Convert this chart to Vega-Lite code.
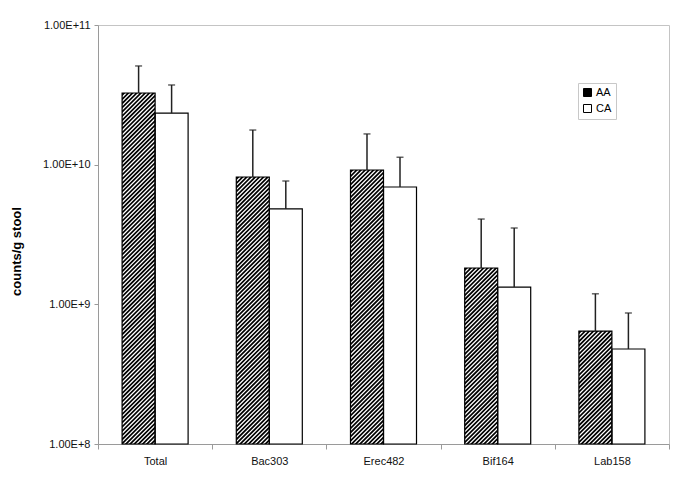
{
  "$schema": "https://vega.github.io/schema/vega-lite/v6.json",
  "width": 571,
  "height": 419,
  "autosize": "none",
  "padding": {"left": 98, "top": 25, "right": 16, "bottom": 49},
  "background": "white",
  "config": {
    "view": {"stroke": "#c4c4c4", "strokeWidth": 1},
    "font": "Liberation Sans",
    "axis": {"grid": false, "domainColor": "#9a9a9a", "tickColor": "#9a9a9a", "labelColor": "#111111", "labelFont": "Liberation Sans", "labelFontSize": 11, "titleFont": "Liberation Sans", "titleColor": "#000000"}
  },
  "data": {
    "values": [
      {"probe": "Total", "group": "AA", "mean": 3.26e10, "upper": 5.09e10},
      {"probe": "Total", "group": "CA", "mean": 2.34e10, "upper": 3.72e10},
      {"probe": "Bac303", "group": "AA", "mean": 8.16e9, "upper": 1.77e10},
      {"probe": "Bac303", "group": "CA", "mean": 4.82e9, "upper": 7.64e9},
      {"probe": "Erec482", "group": "AA", "mean": 9.16e9, "upper": 1.66e10},
      {"probe": "Erec482", "group": "CA", "mean": 6.92e9, "upper": 1.13e10},
      {"probe": "Bif164", "group": "AA", "mean": 1.82e9, "upper": 4.08e9},
      {"probe": "Bif164", "group": "CA", "mean": 1.33e9, "upper": 3.52e9},
      {"probe": "Lab158", "group": "AA", "mean": 6.44e8, "upper": 1.19e9},
      {"probe": "Lab158", "group": "CA", "mean": 4.79e8, "upper": 8.67e8}
    ]
  },
  "encoding": {
    "x": {
      "field": "probe", "type": "nominal",
      "sort": ["Total", "Bac303", "Erec482", "Bif164", "Lab158"],
      "scale": {"paddingInner": 0, "paddingOuter": 0},
      "axis": {"title": null, "labelAngle": 0, "tickBand": "extent", "tickSize": 5, "labelPadding": 6}
    },
    "xOffset": {
      "field": "group", "type": "nominal",
      "scale": {"domain": ["AA", "CA"], "paddingInner": 0, "paddingOuter": 0.73}
    }
  },
  "layer": [
    {
      "mark": {"type": "bar", "strokeWidth": 0},
      "encoding": {
        "y": {
          "field": "mean", "type": "quantitative", "stack": null,
          "scale": {"type": "log", "domain": [1e8, 1e11]},
          "axis": {"title": "counts/g stool", "titleFontWeight": "bold", "titleFontSize": 13, "titlePadding": 19, "titleY": 226, "values": [1e8, 1e9, 1e10, 1e11], "labelExpr": "upper(format(datum.value, '.2e'))", "tickSize": 4, "labelPadding": 4}
        },
        "fill": {
          "field": "group", "type": "nominal",
          "scale": {"domain": ["AA", "CA"], "range": ["#000000", "#ffffff"]},
          "legend": {"orient": "none", "legendX": 480, "legendY": 58, "title": null, "strokeColor": "#c8c8c8", "padding": 4, "symbolType": "square", "symbolSize": 64, "symbolStrokeColor": "#000000", "symbolStrokeWidth": 1, "labelFontSize": 11, "labelFont": "Liberation Sans", "labelColor": "#000000", "labelOffset": 3, "rowPadding": 3,
            "encode": {"symbols": {"update": {"fill": {"signal": "datum.value === 'AA' ? '#3a3a3a' : '#ffffff'"}, "stroke": {"value": "#000000"}, "strokeWidth": {"value": 1}, "opacity": {"value": 1}}}}}
        }
      }
    },
    {
      "transform": [{"filter": "datum.group === 'AA'"}],
      "mark": {
        "type": "point", "clip": true, "filled": false, "size": 4, "stroke": "#ffffff", "strokeWidth": 1.25, "opacity": 1,
        "shape": "M-12.3,0L-16.5,4.2M-8.1,0L-16.5,8.4M-3.9,0L-16.5,12.6M0.3,0L-16.5,16.8M4.5,0L-16.5,21M8.7,0L-16.5,25.2M12.9,0L-16.5,29.4M16.5,0.6l-33,33M16.5,4.8l-33,33M16.5,9l-33,33M16.5,13.2l-33,33M16.5,17.4l-33,33M16.5,21.6l-33,33M16.5,25.8l-33,33M16.5,30l-33,33M16.5,34.2l-33,33M16.5,38.4l-33,33M16.5,42.6l-33,33M16.5,46.8l-33,33M16.5,51l-33,33M16.5,55.2l-33,33M16.5,59.4l-33,33M16.5,63.6l-33,33M16.5,67.8l-33,33M16.5,72l-33,33M16.5,76.2l-33,33M16.5,80.4l-33,33M16.5,84.6l-33,33M16.5,88.8l-33,33M16.5,93l-33,33M16.5,97.2l-33,33M16.5,101.4l-33,33M16.5,105.6l-33,33M16.5,109.8l-33,33M16.5,114l-33,33M16.5,118.2l-33,33M16.5,122.4l-33,33M16.5,126.6l-33,33M16.5,130.8l-33,33M16.5,135l-33,33M16.5,139.2l-33,33M16.5,143.4l-33,33M16.5,147.6l-33,33M16.5,151.8l-33,33M16.5,156l-33,33M16.5,160.2l-33,33M16.5,164.4l-33,33M16.5,168.6l-33,33M16.5,172.8l-33,33M16.5,177l-33,33M16.5,181.2l-33,33M16.5,185.4l-33,33M16.5,189.6l-33,33M16.5,193.8l-33,33M16.5,198l-33,33M16.5,202.2l-33,33M16.5,206.4l-33,33M16.5,210.6l-33,33M16.5,214.8l-33,33M16.5,219l-33,33M16.5,223.2l-33,33M16.5,227.4l-33,33M16.5,231.6l-33,33M16.5,235.8l-33,33M16.5,240l-33,33M16.5,244.2l-33,33M16.5,248.4l-33,33M16.5,252.6l-33,33M16.5,256.8l-33,33M16.5,261l-33,33M16.5,265.2l-33,33M16.5,269.4l-33,33M16.5,273.6l-33,33M16.5,277.8l-33,33M16.5,282l-33,33M16.5,286.2l-33,33M16.5,290.4l-33,33M16.5,294.6l-33,33M16.5,298.8l-33,33M16.5,303l-33,33M16.5,307.2l-33,33M16.5,311.4l-33,33M16.5,315.6l-33,33M16.5,319.8l-33,33M16.5,324l-33,33M16.5,328.2l-33,33M16.5,332.4l-33,33M16.5,336.6l-33,33M16.5,340.8l-33,33M16.5,345l-33,33M16.5,349.2l-33,33M16.5,353.4l-33,33"
      },
      "encoding": {
        "y": {"field": "mean", "type": "quantitative", "scale": {"type": "log", "domain": [1e8, 1e11]}, "axis": {"title": "counts/g stool", "titleFontWeight": "bold", "titleFontSize": 13, "titlePadding": 19, "titleY": 226, "values": [1e8, 1e9, 1e10, 1e11], "labelExpr": "upper(format(datum.value, '.2e'))", "tickSize": 4, "labelPadding": 4}}
      }
    },
    {
      "mark": {"type": "bar", "fillOpacity": 0, "stroke": "#000000", "strokeWidth": 1.2},
      "encoding": {
        "y": {"field": "mean", "type": "quantitative", "stack": null, "scale": {"type": "log", "domain": [1e8, 1e11]}, "axis": {"title": "counts/g stool", "titleFontWeight": "bold", "titleFontSize": 13, "titlePadding": 19, "titleY": 226, "values": [1e8, 1e9, 1e10, 1e11], "labelExpr": "upper(format(datum.value, '.2e'))", "tickSize": 4, "labelPadding": 4}}
      }
    },
    {
      "mark": {"type": "rule", "color": "#222222", "strokeWidth": 1.5},
      "encoding": {
        "y": {"field": "mean", "type": "quantitative", "scale": {"type": "log", "domain": [1e8, 1e11]}, "axis": {"title": "counts/g stool", "titleFontWeight": "bold", "titleFontSize": 13, "titlePadding": 19, "titleY": 226, "values": [1e8, 1e9, 1e10, 1e11], "labelExpr": "upper(format(datum.value, '.2e'))", "tickSize": 4, "labelPadding": 4}},
        "y2": {"field": "upper"}
      }
    },
    {
      "mark": {"type": "tick", "orient": "horizontal", "size": 7, "thickness": 1.5, "color": "#222222"},
      "encoding": {
        "y": {"field": "upper", "type": "quantitative", "scale": {"type": "log", "domain": [1e8, 1e11]}, "axis": {"title": "counts/g stool", "titleFontWeight": "bold", "titleFontSize": 13, "titlePadding": 19, "titleY": 226, "values": [1e8, 1e9, 1e10, 1e11], "labelExpr": "upper(format(datum.value, '.2e'))", "tickSize": 4, "labelPadding": 4}}
      }
    }
  ]
}
